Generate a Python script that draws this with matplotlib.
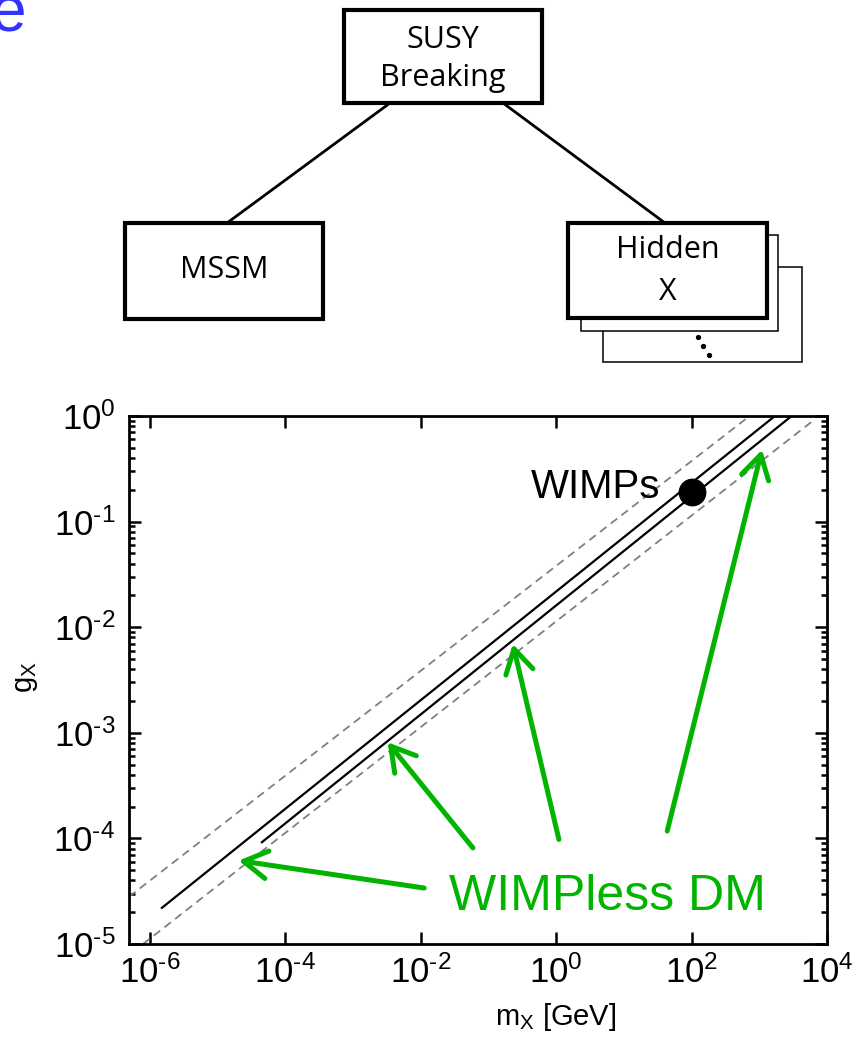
import math
import matplotlib
matplotlib.use("Agg")
import matplotlib.pyplot as plt
import matplotlib.ticker as mtick
from matplotlib.patches import Rectangle
from matplotlib import font_manager

# --- chart data ---
solid_upper_m = [1.5e-6, 1.7e3]
solid_upper_g = [2.2e-5, 1.0]
solid_lower_m = [4.5e-5, 3.0e3]
solid_lower_g = [9.2e-5, 1.0]
dashed_upper_m = [4.9e-7, 7.2e2]
dashed_upper_g = [2.8e-5, 1.0]
dashed_lower_m = [7.9e-7, 6.6e3]
dashed_lower_g = [1.0e-5, 0.93]

wimp_m = [100.0]
wimp_g = [0.19]

# WIMPless DM arrows: tip and tail positions (log10 of m, log10 of g)
arrow_tip_logm = [-4.69, -2.49, -0.64, 3.04]
arrow_tip_logg = [-4.21, -3.09, -2.16, -0.32]
arrow_tail_logm = [-1.95, -1.23, 0.04, 1.64]
arrow_tail_logg = [-4.47, -4.09, -4.01, -3.93]

x_ticks = [1e-6, 1e-4, 1e-2, 1e0, 1e2, 1e4]
x_limits = (10 ** -6.31, 1e4)
y_limits = (1e-5, 1.0)

GREEN = "#00b400"

# narrow Helvetica-like font for the gnuplot-style axes text
try:
    font_manager.findfont("Liberation Sans Narrow", fallback_to_default=False)
    narrow = "Liberation Sans Narrow"
except Exception:
    narrow = "Liberation Sans"
plt.rcParams["mathtext.fontset"] = "custom"
plt.rcParams["mathtext.rm"] = narrow
plt.rcParams["mathtext.it"] = narrow
plt.rcParams["mathtext.default"] = "regular"
plt.rcParams["font.family"] = [narrow, "DejaVu Sans"]


def pow10_label(v, pos):
    # gnuplot style: short hyphen in the exponent
    return r"$\mathregular{10^{\text{%d}}}$" % round(math.log10(v))


W, H = 865, 1038
fig = plt.figure(figsize=(W / 100, H / 100), dpi=100)

# --- top diagram, drawn in pixel coordinates ---
dg = fig.add_axes([0, 0, 1, 1])
dg.set_xlim(0, W)
dg.set_ylim(H, 0)
dg.axis("off")

box_font = dict(family=["Open Sans", "DejaVu Sans"], fontsize=22, ha="center", va="center")
# stacked hidden-sector boxes (back to front)
dg.add_patch(Rectangle((603, 267), 199, 95, fc="white", ec="black", lw=1.1))
dg.add_patch(Rectangle((581, 235), 197, 96, fc="white", ec="black", lw=1.1))
dg.plot([698, 703, 709], [337, 346, 355], ls="none", marker="o", ms=2.8, color="black")
# connectors
dg.plot([390, 227], [103, 223], color="black", lw=2)
dg.plot([503, 665], [103, 223], color="black", lw=2)
# main boxes
dg.add_patch(Rectangle((344, 10), 198, 93, fc="white", ec="black", lw=3))
dg.add_patch(Rectangle((125, 223), 198, 96, fc="white", ec="black", lw=3))
dg.add_patch(Rectangle((568, 223), 199, 95, fc="white", ec="black", lw=3))
dg.text(443, 40, "SUSY", **box_font)
dg.text(443, 78, "Breaking", **box_font)
dg.text(224, 270, "MSSM", **box_font)
dg.text(668, 250, "Hidden", **box_font)
dg.text(668, 292, "X", **box_font)
# clipped blue letter from a slide title
dg.text(26, 32, "e", color="#3333ff", fontsize=46, ha="right", va="baseline",
        family=["Liberation Sans", "DejaVu Sans"])

# --- log-log plot ---
ax = fig.add_axes([129 / W, 1 - 944 / H, (827 - 129) / W, (944 - 416) / H])
ax.set_xscale("log")
ax.set_yscale("log")

ax.plot(dashed_upper_m, dashed_upper_g, color="#808080", lw=1.3, dashes=(4.5, 3))
ax.plot(dashed_lower_m, dashed_lower_g, color="#808080", lw=1.3, dashes=(4.5, 3))
ax.plot(solid_upper_m, solid_upper_g, color="black", lw=1.6)
ax.plot(solid_lower_m, solid_lower_g, color="black", lw=1.6)
ax.plot(wimp_m, wimp_g, "o", color="black", ms=19, zorder=5)

ax.text(34, 0.168, "WIMPs", fontsize=29, ha="right", va="baseline",
        family=["Liberation Sans", "DejaVu Sans"])
ax.text(5.8, 10 ** -4.68, "WIMPless DM", fontsize=36, ha="center", va="baseline",
        color=GREEN, family=["Liberation Sans", "DejaVu Sans"])

for tx, ty, sx, sy in zip(arrow_tip_logm, arrow_tip_logg, arrow_tail_logm, arrow_tail_logg):
    ax.annotate("", xy=(10 ** tx, 10 ** ty), xytext=(10 ** sx, 10 ** sy),
                arrowprops=dict(arrowstyle="->,head_length=0.85,head_width=0.5",
                                color=GREEN, lw=3.6, shrinkA=0, shrinkB=0,
                                mutation_scale=20))

ax.set_xlim(*x_limits)
ax.set_ylim(*y_limits)
ax.xaxis.set_major_locator(mtick.FixedLocator(x_ticks))
ax.xaxis.set_minor_locator(mtick.NullLocator())
ax.yaxis.set_major_locator(mtick.LogLocator(base=10, numticks=10))
ax.yaxis.set_minor_locator(mtick.LogLocator(base=10, subs=range(2, 10), numticks=10))
ax.xaxis.set_major_formatter(mtick.FuncFormatter(pow10_label))
ax.yaxis.set_major_formatter(mtick.FuncFormatter(pow10_label))

ax.tick_params(which="both", direction="in", top=True, right=True, width=1.8)
ax.tick_params(which="major", length=8.5, labelsize=25)
ax.tick_params(which="minor", length=4.5)
ax.tick_params(axis="x", which="major", pad=8)
ax.tick_params(axis="y", which="major", pad=10)
for sp in ax.spines.values():
    sp.set_linewidth(2)

ax.set_xlabel(r"m$_\mathrm{X}$ [GeV]", fontsize=21)
ax.xaxis.set_label_coords(0.612, -0.108)
ax.set_ylabel(r"g$_\mathrm{X}$", fontsize=21)
ax.yaxis.set_label_coords(-0.128, 0.506)

fig.savefig("out.png", dpi=100)
